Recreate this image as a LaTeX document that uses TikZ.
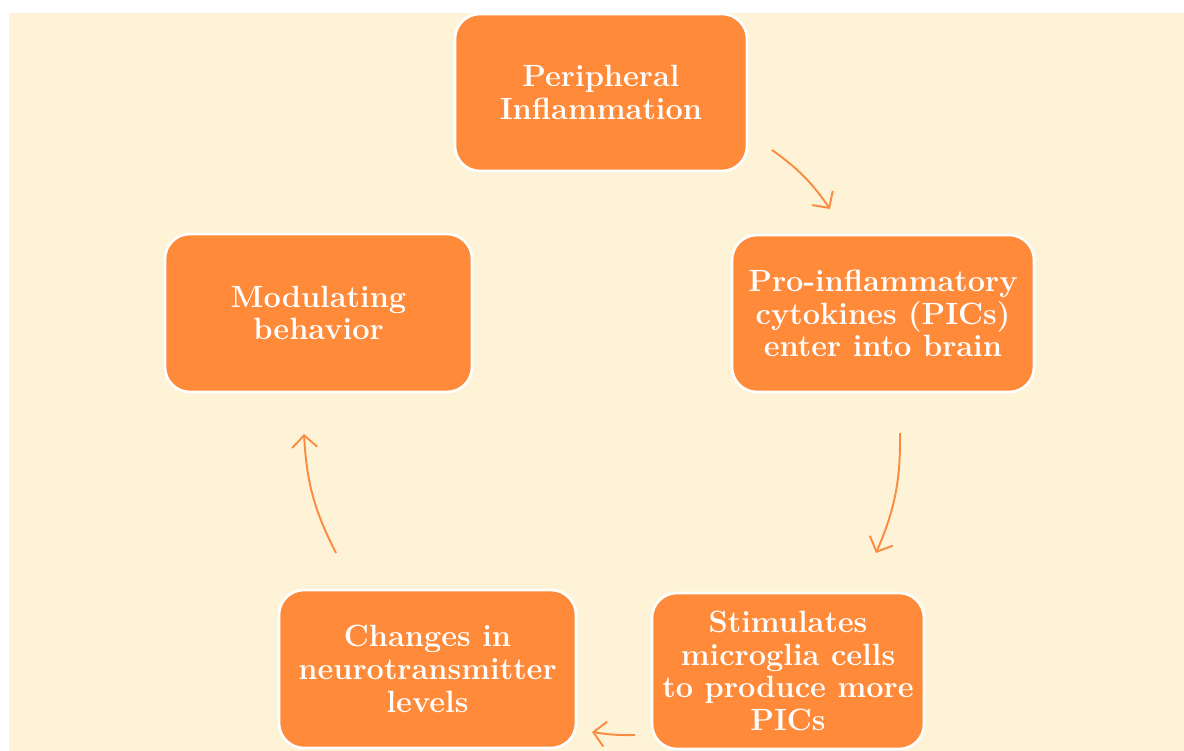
\documentclass[tikz,border=0pt]{standalone}
\usetikzlibrary{arrows.meta, positioning}
\definecolor{cream}{RGB}{254,243,214}
\definecolor{boxorange}{RGB}{254,138,58}
\definecolor{arroworange}{RGB}{250,140,66}
\tikzset{%
>={Straight Barb[length=2.4mm,width=5mm]},
  % Specifications for style of nodes:
            stepnode/.style = {rectangle, rounded corners=0.5cm, draw=white,
                            line width=1.5pt, fill=boxorange, text=white,
                            font=\fontsize{17.5}{18.6}\selectfont\bfseries,
                            align=center, inner sep=0pt},
            cyclearrow/.style = {->, draw=arroworange, line width=1.1pt}
}
\begin{document}
\begin{tikzpicture}
                        \useasboundingbox (0,0) rectangle (23.68,-15.02);
                        \fill[cream] (0.18,-0.26) rectangle (23.68,-15.02);
                        \node (inflam)[stepnode, minimum width=5.84cm, minimum height=3.14cm] at (12.02,-1.85) {Peripheral\\Inflammation};
                        \node (cytok)[stepnode, minimum width=6.04cm, minimum height=3.14cm] at (17.66,-6.27) {Pro-inflammatory\\cytokines (PICs)\\enter into brain};
                        \node (microglia)[stepnode, minimum width=5.44cm, minimum height=3.12cm] at (15.76,-13.42) {Stimulates\\microglia cells\\to produce more\\PICs};
                        \node (neuro)[stepnode, minimum width=5.94cm, minimum height=3.16cm] at (8.55,-13.38) {Changes in\\neurotransmitter\\levels};
                        \node (behav)[stepnode, minimum width=6.14cm, minimum height=3.16cm] at (6.37,-6.26) {Modulating\\behavior};
                        % arrow ends
                        \coordinate (a1) at (15.44,-3.00);
                        \coordinate (a2) at (16.60,-4.18);
                        \coordinate (b1) at (18.00,-8.66);
                        \coordinate (b2) at (17.52,-11.06);
                        \coordinate (c1) at (12.70,-14.70);
                        \coordinate (c2) at (11.84,-14.64);
                        \coordinate (d1) at (6.72,-11.06);
                        \coordinate (d2) at (6.08,-8.68);
                        \draw[cyclearrow] (a1) to[bend left=10] (a2);
                        \draw[cyclearrow] (b1) to[bend left=12] (b2);
                        \draw[cyclearrow] (c1) to[bend left=5] (c2);
                        \draw[cyclearrow] (d1) to[bend left=12] (d2);
\end{tikzpicture}
\end{document}
